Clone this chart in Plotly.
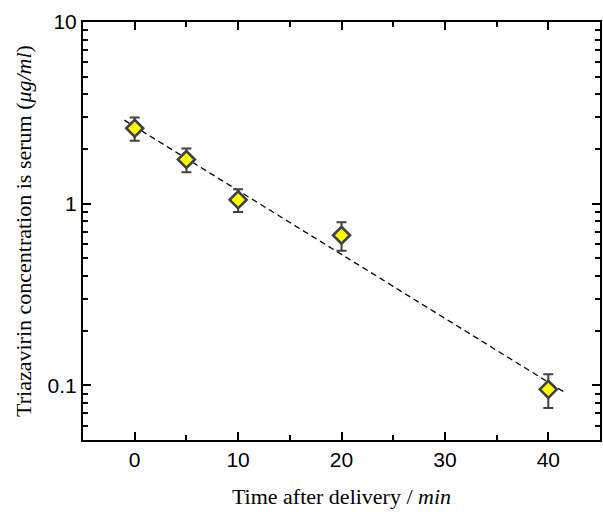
import numpy as np
import plotly.graph_objects as go

# Serum concentration of triazavirin after delivery
time_min = [0, 5, 10, 20, 40]
conc = [2.6, 1.75, 1.05, 0.67, 0.095]
conc_err = [0.38, 0.26, 0.15, 0.12, 0.02]

# Span over which the exponential fit is drawn
fit_span = [-1.0, 41.5]

# Log-linear least-squares fit: log10(C) = a*t + b
a, b = np.polyfit(time_min, np.log10(conc), 1)
fit_x = np.array(fit_span)
fit_y = 10 ** (a * fit_x + b)

# Minor ticks at 2..9 of every decade inside the visible range
minor_y = [m * 10.0 ** e for e in (-2, -1, 0) for m in range(2, 10)]
minor_y = [v for v in minor_y if 0.05 <= v <= 10]

fig = go.Figure()

fig.add_trace(go.Scatter(
    x=fit_x, y=fit_y, mode="lines",
    line=dict(color="black", width=1.3, dash="6px,4px"),
    hoverinfo="skip", showlegend=False,
))

fig.add_trace(go.Scatter(
    x=time_min, y=conc, mode="markers",
    marker=dict(symbol="diamond", size=13, color="#ffff00",
                line=dict(color="#404040", width=2.6)),
    error_y=dict(type="data", array=conc_err, visible=True,
                 color="#404040", thickness=2, width=5),
    showlegend=False,
))

tick_font = dict(family="Liberation Sans", size=21, color="black")
title_font = dict(family="Liberation Serif", size=22, color="black")
ital = "<span style=\"font-family:'Liberation Serif',serif;font-style:italic\">{}</span>"

fig.update_layout(
    width=603, height=512,
    margin=dict(l=83, r=1, t=22, b=72),
    paper_bgcolor="white", plot_bgcolor="white",
    xaxis=dict(
        range=[-5, 45], tick0=0, dtick=10,
        ticks="inside", ticklen=8, tickwidth=1.5, tickcolor="black",
        minor=dict(ticks="inside", ticklen=5, tickwidth=1.5, tickcolor="black", dtick=5, showgrid=False),
        showline=True, linecolor="black", linewidth=2, mirror="ticks",
        showgrid=False, zeroline=False,
        tickfont=tick_font,
        title=dict(text="Time after delivery / " + ital.format("min"), font=title_font, standoff=18),
    ),
    yaxis=dict(
        type="log", range=[np.log10(0.05), 1],
        tickvals=[0.1, 1, 10], ticktext=["0.1", "1", "10"],
        ticks="inside", ticklen=8, tickwidth=1.5, tickcolor="black",
        minor=dict(ticks="inside", ticklen=5, tickwidth=1.5, tickcolor="black",
                   tickvals=minor_y, showgrid=False),
        showline=True, linecolor="black", linewidth=2, mirror="ticks",
        showgrid=False, zeroline=False,
        tickfont=tick_font,
        title=dict(text="Triazavirin concentration is serum (" + ital.format("μg/ml") + ")",
                   font=title_font, standoff=10),
    ),
)

fig.write_html("out.html")
